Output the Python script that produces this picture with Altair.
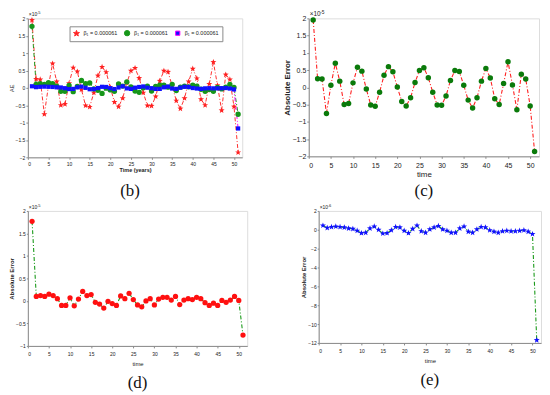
import math
import altair as alt
import pandas as pd

# ---------------- data ----------------
TIME = list(range(1, 52))

# panel (c): red dash-dot line, green markers  (x 1e-5)
AE_C = [1.95, 0.25, 0.24, -0.76, 0.06, 0.70, 0.18, -0.50, -0.47, 0.13,
        0.58, 0.47, -0.05, -0.51, -0.55, -0.14, 0.35, 0.60, 0.45, 0.01,
        -0.41, -0.54, -0.30, 0.14, 0.49, 0.57, 0.28, -0.14, -0.51, -0.52,
        -0.25, 0.20, 0.49, 0.46, 0.06, -0.37, -0.60, -0.30, 0.18, 0.55,
        0.27, -0.33, -0.50, 0.11, 0.74, 0.07, -0.65, 0.38, 0.24, -0.54,
        -1.86]

# panel (d): green dash-dot line, red markers  (x 1e-5)
AE_D = [1.77, 0.10, 0.12, 0.10, 0.15, 0.12, 0.05, -0.10, -0.10, 0.07,
        -0.11, 0.04, 0.21, 0.12, 0.14, -0.03, -0.07, -0.16, -0.01, -0.06,
        -0.10, 0.11, 0.05, 0.17, 0.03, -0.09, -0.13, 0.00, 0.05, -0.09,
        0.04, 0.08, 0.08, 0.02, 0.10, -0.08, 0.02, 0.05, 0.03, 0.08,
        0.05, -0.04, -0.10, -0.05, -0.10, 0.01, -0.03, 0.02, 0.10, 0.01,
        -0.76]

# panel (e): green dash-dot line, blue stars  (x 1e-6)
AE_E = [0.45, 0.20, 0.30, 0.35, 0.30, 0.25, 0.15, 0.10, -0.10, -0.35,
        -0.30, 0.15, 0.35, 0.00, -0.40, -0.35, -0.05, 0.30, 0.25, -0.10,
        -0.35, 0.10, 0.45, -0.15, -0.30, 0.05, 0.25, 0.40, 0.05, -0.10,
        -0.30, -0.30, 0.15, 0.35, -0.20, -0.30, 0.05, 0.30, 0.25, -0.05,
        -0.20, -0.30, -0.15, -0.10, -0.15, -0.15, -0.10, -0.05, -0.20, -0.45,
        -11.70]

# panel (b): the three series together (x 1e-5)
B_SERIES = ["s1", "s2", "s3"]
B_VALUES = [AE_C, AE_D, [v / 10 for v in AE_E]]
LEGEND_LABEL = "β₁ = 0.000061"

X_TICKS = [0, 5, 10, 15, 20, 25, 30, 35, 40, 45, 50]
Y_TICKS_B = [-2, -1.5, -1, -0.5, 0, 0.5, 1, 1.5, 2]
Y_TICKS_D = [-1, -0.5, 0, 0.5, 1, 1.5, 2]
Y_TICKS_E = [-12, -10, -8, -6, -4, -2, 0, 2]

# ---------------- styles ----------------
def star_path(inner=0.42):
    pts = []
    for k in range(10):
        r = 1.0 if k % 2 == 0 else inner
        a = math.radians(-90 + 36 * k)
        pts.append(f"{r * math.cos(a):.3f},{r * math.sin(a):.3f}")
    return "M" + "L".join(pts) + "Z"

STAR = star_path()
DASHDOT = [4, 2, 1, 2]
FONT = "Liberation Sans"
FRAME = "#8a8a8a"
TXT = "#222222"


def axis(values, fs, title_fs, bold, title_pad, label_pad=1, tick=2):
    return dict(values=values, format="~g", grid=False, labelFontSize=fs,
                labelFont=FONT, labelColor=TXT, titleFont=FONT,
                titleFontSize=title_fs, titleColor=TXT,
                titleFontWeight="bold" if bold else "normal",
                titlePadding=title_pad, labelPadding=label_pad,
                tickSize=tick, tickColor=FRAME, domainColor=FRAME)


def exp_label(base, power, fs):
    df = pd.DataFrame({"b": [base], "p": [power]})
    b = alt.Chart(df).mark_text(
        align="left", baseline="bottom", fontSize=fs, font=FONT, color=TXT, dx=1
    ).encode(x=alt.value(0), y=alt.value(-1), text="b:N")
    p = alt.Chart(df).mark_text(
        align="left", baseline="bottom", fontSize=max(fs * 0.75, 4), font=FONT,
        color=TXT, dx=1 + fs * 1.62, dy=-fs * 0.38
    ).encode(x=alt.value(0), y=alt.value(-1), text="p:N")
    return [b, p]


def caption(text, offset, dx=0):
    return alt.TitleParams(text=text, orient="bottom", font="Liberation Serif",
                           fontSize=17, fontWeight="normal", color="#111",
                           offset=offset, dx=dx)


def single_panel(values, line_color, mark_color, shape, msize, w, h,
                 ydom, yticks, power, cap, fs, tfs, xpad, xtpad, cap_off,
                 ytitle="Absolute Error", xtitle="time", cap_dx=0, ytick=2,
                 efs=None):
    df = pd.DataFrame({"t": TIME, "v": values})
    x = alt.X("t:Q", scale=alt.Scale(domain=[0, 52], nice=False),
              axis=alt.Axis(**axis(X_TICKS, fs, tfs, False, xtpad, xpad)),
              title=xtitle)
    y = alt.Y("v:Q", scale=alt.Scale(domain=ydom, nice=False),
              axis=alt.Axis(**axis(yticks, fs, tfs, True, 1, 1, ytick)),
              title=ytitle)
    line = alt.Chart(df).mark_line(color=line_color, strokeWidth=1.1,
                                   strokeDash=DASHDOT).encode(x=x, y=y)
    pts = alt.Chart(df).mark_point(filled=True, shape=shape, size=msize,
                                   color=mark_color, opacity=1).encode(x=x, y=y)
    return alt.layer(line, pts, *exp_label("×10", power, efs or fs)).properties(
        width=w, height=h, title=caption(cap, cap_off, cap_dx))


# ---------------- panel (b) ----------------
rows = []
for s, vals in zip(B_SERIES, B_VALUES):
    for t, v in zip(TIME, vals):
        rows.append({"series": s, "t": t, "v": v})
dfb = pd.DataFrame(rows)

xb = alt.X("t:Q", scale=alt.Scale(domain=[0, 52], nice=False),
           axis=alt.Axis(**axis(X_TICKS, 5, 5.5, True, 1, 2)), title="Time (years)")
yb = alt.Y("v:Q", scale=alt.Scale(domain=[-2, 2], nice=False),
           axis=alt.Axis(**axis(Y_TICKS_B, 5, 5.5, False, 1, 1)), title="AE")

# one shared legend config for every channel (they are merged into one legend)
LEG = dict(title=None, orient="none", legendX=42, legendY=8,
           direction="horizontal", columns=3,
           labelExpr=f"'{LEGEND_LABEL}'", labelFontSize=5.5,
           labelFont=FONT, labelColor=TXT, labelOffset=3,
           columnPadding=4, padding=3, fillColor="white",
           strokeColor=FRAME, labelLimit=80, symbolStrokeWidth=1)

line_b = alt.Chart(dfb).mark_line(strokeWidth=1, strokeDash=DASHDOT).encode(
    x=xb, y=yb,
    stroke=alt.Stroke("series:N", legend=alt.Legend(**LEG),
                      scale=alt.Scale(domain=B_SERIES,
                                      range=["#ff3030", "#1a9a1a", "#ff00ff"])),
    detail="series:N")
pts_b = alt.Chart(dfb).mark_point(filled=True, opacity=1).encode(
    x=xb, y=yb,
    color=alt.Color("series:N",
                    scale=alt.Scale(domain=B_SERIES,
                                    range=["#ff2020", "#16961a", "#1010ff"]),
                    legend=alt.Legend(**LEG)),
    shape=alt.Shape("series:N",
                    scale=alt.Scale(domain=B_SERIES,
                                    range=[STAR, "circle", "square"]),
                    legend=alt.Legend(**LEG)),
    size=alt.Size("series:N",
                  scale=alt.Scale(domain=B_SERIES, range=[40, 18, 10]),
                  legend=alt.Legend(**LEG)))
panel_b = alt.layer(line_b, pts_b, *exp_label("×10", "-5", 5)).properties(
    width=216, height=140, title=caption("(b)", 10, -5))

panel_c = single_panel(AE_C, "#ff2020", "#0a7a0a", "circle", 30, 232, 139,
                       [-2, 2], Y_TICKS_B, "-5", "(c)", 7, 8, 3, 2, 5,
                       efs=6.5)
panel_d = single_panel(AE_D, "#1a9a1a", "#ff1010", "circle", 28, 221, 136,
                       [-1, 2], Y_TICKS_D, "-5", "(d)", 5, 6, 4, 4, 8,
                       ytick=1.5)
panel_e = single_panel(AE_E, "#1a9a1a", "#1010ff", STAR, 40, 224, 133,
                       [-12, 2], Y_TICKS_E, "-6", "(e)", 5, 6, 4, 4, 8,
                       ytick=1.5)

RES = dict(color="independent", shape="independent", size="independent",
           stroke="independent")

top = alt.hconcat(panel_b, panel_c, spacing=39).resolve_scale(**RES)
bottom = alt.hconcat(panel_d, panel_e, spacing=52).resolve_scale(**RES)

chart = alt.vconcat(top, bottom, spacing=3).resolve_scale(**RES).properties(
    padding={"left": 0, "top": 0, "right": 0, "bottom": 0}
).configure_view(stroke=FRAME, strokeWidth=1).configure(background="white")

chart.save("out.html", embed_options={"renderer": "svg", "actions": False})
